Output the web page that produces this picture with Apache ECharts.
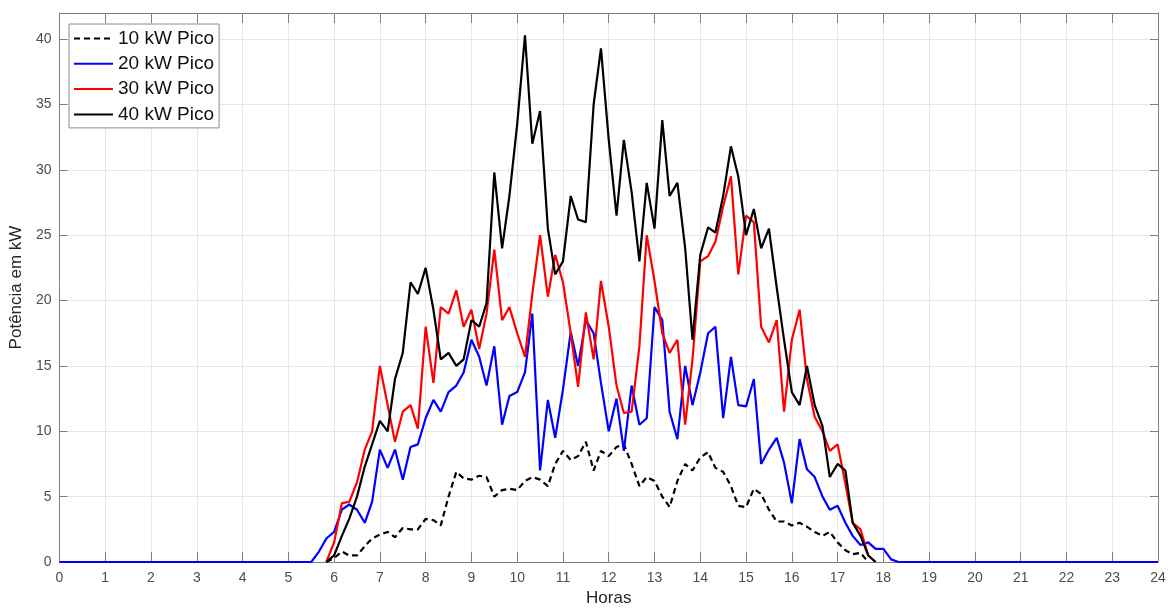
<!DOCTYPE html>
<html>
<head>
<meta charset="utf-8">
<script src="https://cdn.jsdelivr.net/npm/echarts@6/dist/echarts.min.js"></script>
<style>
  html, body { margin: 0; padding: 0; background: #fff; }
  #chart { width: 1170px; height: 612px; }
</style>
</head>
<body>
<div id="chart"></div>
<script>
// horas (0 e 24 só para a linha de base noturna)
const horas = [0,
  5.5, 5.67, 5.83, 6, 6.17, 6.33, 6.5, 6.67, 6.83, 7, 7.17, 7.33, 7.5, 7.67, 7.83,
  8, 8.17, 8.33, 8.5, 8.67, 8.83, 9, 9.17, 9.33, 9.5, 9.67, 9.83,
  10, 10.17, 10.33, 10.5, 10.67, 10.83, 11, 11.17, 11.33, 11.5, 11.67, 11.83,
  12, 12.17, 12.33, 12.5, 12.67, 12.83, 13, 13.17, 13.33, 13.5, 13.67, 13.83,
  14, 14.17, 14.33, 14.5, 14.67, 14.83, 15, 15.17, 15.33, 15.5, 15.67, 15.83,
  16, 16.17, 16.33, 16.5, 16.67, 16.83, 17, 17.17, 17.33, 17.5, 17.67, 17.83,
  18, 18.17, 18.33, 18.5,
  24];

const pico10 = [null,
  null, null, 0, 0.3, 0.8, 0.5, 0.5, 1.2, 1.8, 2.1, 2.3, 1.9, 2.6, 2.5, 2.5,
  3.3, 3.2, 2.8, 5.0, 6.9, 6.4, 6.3, 6.6, 6.5, 5.0, 5.5, 5.6,
  5.5, 6.2, 6.5, 6.3, 5.8, 7.5, 8.5, 7.8, 8.1, 9.2, 7.0, 8.5,
  8.1, 8.8, 9.0, 7.5, 5.8, 6.5, 6.2, 5.0, 4.2, 6.2, 7.5, 7.0,
  8.0, 8.4, 7.2, 6.9, 5.8, 4.3, 4.2, 5.6, 5.2, 4.0, 3.1, 3.1,
  2.8, 3.0, 2.7, 2.3, 2.0, 2.3, 1.5, 0.9, 0.6, 0.7, 0, null,
  null, null, null, null,
  null];

const pico20 = [0,
  0, 0.8, 1.8, 2.3, 4.0, 4.4, 4.0, 3.0, 4.6, 8.6, 7.2, 8.6, 6.3, 8.8, 9.0,
  11.0, 12.4, 11.5, 13.0, 13.5, 14.5, 17.0, 15.7, 13.5, 16.5, 10.5, 12.7,
  13.0, 14.5, 19.0, 7.0, 12.4, 9.5, 13.2, 17.6, 15.0, 18.5, 17.5, 13.7,
  10.0, 12.5, 8.5, 13.5, 10.5, 11.0, 19.5, 18.5, 11.5, 9.4, 15.0, 12.0,
  14.5, 17.5, 18.0, 11.0, 15.7, 12.0, 11.9, 14.0, 7.5, 8.6, 9.5, 7.6,
  4.5, 9.4, 7.1, 6.5, 5.0, 4.0, 4.3, 3.0, 2.0, 1.3, 1.5, 1.0,
  1.0, 0.2, 0, 0,
  0];

const pico30 = [null,
  null, null, 0, 1.5, 4.5, 4.6, 6.1, 8.6, 10.0, 15.0, 12.0, 9.2, 11.5, 12.0, 10.2,
  18.0, 13.7, 19.5, 19.0, 20.8, 18.0, 19.3, 16.3, 19.0, 23.9, 18.5, 19.5,
  17.5, 15.7, 20.5, 25.0, 20.3, 23.5, 21.4, 17.5, 13.4, 19.1, 15.5, 21.5,
  18.0, 13.5, 11.4, 11.5, 16.5, 25.0, 21.5, 17.5, 16.0, 17.0, 10.5, 15.5,
  23.0, 23.4, 24.5, 27.2, 29.5, 22.0, 26.5, 26.0, 18.0, 16.8, 18.5, 11.5,
  17.0, 19.3, 14.0, 11.1, 10.0, 8.5, 9.0, 6.0, 3.0, 2.5, 0.5, 0,
  null, null, null, null,
  null];

const pico40 = [null,
  null, null, 0, 0.5, 2.0, 3.3, 5.0, 7.3, 9.0, 10.8, 10.0, 14.0, 16.0, 21.4, 20.5,
  22.5, 19.3, 15.5, 16.0, 15.0, 15.5, 18.5, 18.0, 19.8, 29.8, 24.0, 28.0,
  33.5, 40.3, 32.0, 34.5, 25.5, 22.0, 23.0, 28.0, 26.2, 26.0, 35.0, 39.3,
  32.3, 26.5, 32.3, 28.3, 23.0, 29.0, 25.5, 33.8, 28.0, 29.0, 24.0, 17.0,
  23.5, 25.6, 25.2, 28.0, 31.8, 29.5, 25.0, 27.0, 24.0, 25.5, 21.0, 17.0,
  13.0, 12.0, 15.0, 12.0, 10.4, 6.5, 7.5, 7.0, 3.0, 2.0, 0.5, 0,
  null, null, null, null,
  null];

const nomes = ['10 kW Pico', '20 kW Pico', '30 kW Pico', '40 kW Pico'];

function pares(valores) {
  return horas.map((h, i) => [h, valores[i]]);
}

const chart = echarts.init(document.getElementById('chart'), null, { renderer: 'canvas' });

const corEixo = '#808080';
const fonte = '"Liberation Sans", Arial, sans-serif';

chart.setOption({
  animation: false,
  grid: { left: 57, right: 12, top: 13, bottom: 49, containLabel: false },
  legend: {
    data: nomes,
    orient: 'vertical',
    left: 69,
    top: 24,
    padding: [5, 5, 4, 4],
    itemWidth: 39,
    itemHeight: 14,
    itemGap: 6.3,
    itemStyle: { opacity: 0 },
    backgroundColor: '#fff',
    borderColor: '#8c8c8c',
    borderWidth: 1,
    textStyle: { fontFamily: fonte, fontSize: 19, lineHeight: 19, color: '#111' }
  },
  xAxis: [{
    type: 'value',
    min: 0, max: 24, interval: 1,
    name: 'Horas',
    nameLocation: 'middle',
    nameGap: 28,
    nameTextStyle: { fontFamily: fonte, fontSize: 17, color: '#262626' },
    axisLine: { onZero: false, lineStyle: { color: corEixo, width: 1 } },
    axisTick: { inside: true, length: 10, lineStyle: { color: corEixo } },
    axisLabel: { fontFamily: fonte, fontSize: 14, color: '#4d4d4d', margin: 9 },
    splitLine: { show: true, lineStyle: { color: '#e6e6e6', width: 1 } }
  }, {
    type: 'value',
    position: 'top',
    min: 0, max: 24, interval: 1,
    axisLine: { show: true, onZero: false, lineStyle: { color: corEixo, width: 1 } },
    axisTick: { show: true, inside: true, length: 10, lineStyle: { color: corEixo } },
    axisLabel: { show: false },
    splitLine: { show: false }
  }],
  yAxis: [{
    type: 'value',
    min: 0, max: 42, interval: 5,
    name: 'Potência em kW',
    nameLocation: 'middle',
    nameGap: 30,
    nameTextStyle: { fontFamily: fonte, fontSize: 17, color: '#262626' },
    axisLine: { show: true, onZero: false, lineStyle: { color: corEixo, width: 1 } },
    axisTick: { show: true, inside: true, length: 8, lineStyle: { color: corEixo } },
    axisLabel: { fontFamily: fonte, fontSize: 14, color: '#4d4d4d', margin: 8, showMaxLabel: false },
    splitLine: { show: true, lineStyle: { color: '#e6e6e6', width: 1 } }
  }, {
    type: 'value',
    position: 'right',
    min: 0, max: 42, interval: 5,
    axisLine: { show: true, onZero: false, lineStyle: { color: corEixo, width: 1 } },
    axisTick: { show: true, inside: true, length: 8, lineStyle: { color: corEixo } },
    axisLabel: { show: false },
    splitLine: { show: false }
  }],
  series: [
    {
      name: nomes[0], type: 'line', data: pares(pico10), symbol: 'none',
      lineStyle: { color: '#000', width: 2.2, type: [6, 4] }, itemStyle: { color: '#000' }, z: 2
    },
    {
      name: nomes[1], type: 'line', data: pares(pico20), symbol: 'none',
      lineStyle: { color: '#0000ff', width: 2.2 }, itemStyle: { color: '#0000ff' }, z: 3
    },
    {
      name: nomes[2], type: 'line', data: pares(pico30), symbol: 'none',
      lineStyle: { color: '#ff0000', width: 2.2 }, itemStyle: { color: '#ff0000' }, z: 4
    },
    {
      name: nomes[3], type: 'line', data: pares(pico40), symbol: 'none',
      lineStyle: { color: '#000', width: 2.2 }, itemStyle: { color: '#000' }, z: 5
    }
  ]
});
</script>
</body>
</html>
